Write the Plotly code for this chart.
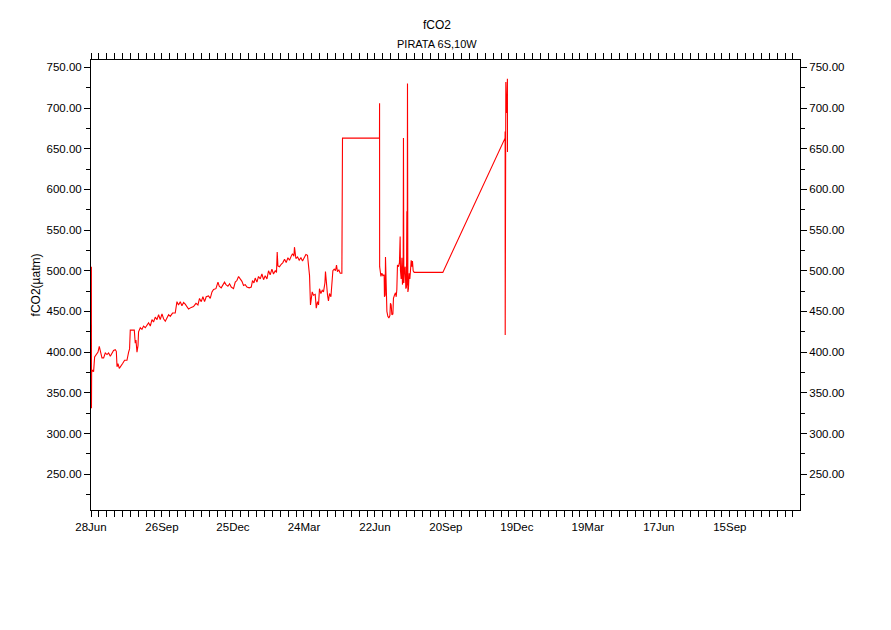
import pandas as pd
import plotly.graph_objects as go

# ---------------- data ----------------
start_date = "2007-06-28"
end_offset_days = 899

day_offsets = [
    0.5, 0.6, 0.7, 0.8, 2.0, 3.3, 4.6, 6.7, 8.9, 10.5, 12.2, 13.9, 16.0, 18.1, 20.3,
    22.3, 24.5, 26.6, 28.6, 30.8, 32.1, 33.0, 34.2, 35.9, 38.4, 40.1, 42.6, 45.6,
    47.7, 48.9, 49.8, 52.0, 54.9, 56.1, 57.0, 58.3, 59.6, 60.3, 62.5, 64.6, 66.7,
    68.8, 71.0, 73.0, 75.2, 77.3, 79.3, 81.5, 83.7, 85.7, 87.8, 90.0, 92.0, 94.2,
    96.3, 98.4, 100.5, 103.4, 106.8, 109.0, 111.0, 113.2, 115.3, 117.4, 119.5,
    121.7, 123.7, 127.1, 130.0, 133.1, 135.6, 137.6, 139.8, 141.9, 144.0, 146.1,
    149.0, 151.2, 153.4, 155.4, 158.4, 161.0, 162.6, 165.1, 166.8, 169.3, 171.1,
    173.6, 175.7, 177.8, 180.7, 182.9, 185.0, 187.1, 189.2, 191.4, 193.4, 195.6,
    197.7, 200.6, 203.2, 204.8, 206.6, 208.2, 210.4, 212.4, 214.6, 216.7, 218.8,
    220.9, 223.1, 225.1, 227.2, 229.4, 231.4, 233.6, 235.2, 236.1, 237.0, 239.0,
    241.2, 243.3, 245.4, 247.5, 249.7, 251.7, 253.9, 255.5, 257.3, 258.0, 259.8,
    261.9, 264.0, 266.2, 268.2, 270.3, 272.5, 274.5, 275.8, 277.1, 278.3, 279.2,
    280.5, 282.1, 284.3, 285.6, 287.2, 288.5, 289.7, 291.5, 293.2, 294.8, 296.6,
    297.3, 298.6, 299.9, 301.1, 302.4, 304.2, 305.4, 306.7, 308.4, 310.0, 311.3,
    312.5, 314.3, 316.0, 318.1, 318.9, 365.8, 365.9, 366.0, 366.7, 367.6, 368.8,
    370.1, 371.7, 372.1, 373.0, 373.4, 374.3, 375.2, 376.4, 377.7, 379.0, 379.7,
    380.6, 381.5, 382.8, 383.5, 384.8, 386.1, 387.0, 387.8, 388.6, 389.9, 391.1,
    392.0, 392.4, 393.3, 394.2, 394.9, 395.8, 396.2, 396.7, 397.4, 398.4, 399.2,
    400.0, 400.5, 400.9, 401.3, 401.8, 402.5, 403.4, 404.3, 405.1, 406.0, 406.8,
    407.6, 408.5, 409.8, 446.1, 525.0, 525.1, 525.2, 525.4, 525.6, 525.8, 526.0,
    526.3, 526.6, 527.0, 528.0, 528.1,
]

fco2_values = [
    505, 331, 378, 375, 378, 376, 394, 397, 400, 407, 398, 393, 393, 399, 397,
    399, 395, 398, 402, 403, 401, 382, 386, 380, 383, 386, 390, 390,
    400, 404, 427, 427, 427, 411, 415, 400, 408, 425, 430, 428, 432,
    430, 433, 436, 432, 440, 437, 443, 440, 446, 440, 447, 441, 438,
    442, 446, 444, 448, 448, 462, 458, 462, 457, 461, 459,
    455, 453, 455, 456, 460, 458, 466, 462, 468, 462, 468,
    469, 466, 474, 477, 478, 486, 481, 479, 482, 486, 483,
    481, 484, 480, 478, 486, 488, 493, 490, 487, 482, 483,
    480, 479, 480, 488, 485, 491, 486, 493, 490, 496, 489,
    494, 490, 500, 495, 502, 496, 500, 498, 523, 506, 505,
    508, 510, 514, 510, 516, 513, 518, 521, 518, 529, 515,
    517, 513, 516, 512, 517, 520, 519, 505, 494, 458, 465,
    474, 470, 471, 454, 462, 458, 478, 472, 476, 474, 485,
    499, 480, 470, 463, 472, 468, 491, 500, 502, 500, 507,
    499, 501, 497, 497, 663, 663, 706, 505, 500, 493, 497,
    494, 495, 468, 470, 517, 456, 450, 444, 442, 445, 460,
    458, 446, 447, 466, 470, 473, 468, 477, 507, 505, 510,
    542, 500, 490, 516, 483, 490, 663, 485, 500, 505, 478,
    480, 573, 482, 730, 474, 478, 497, 490, 500, 513, 505,
    512, 500, 498, 498, 663, 671, 421, 700, 728, 705, 732,
    700, 715, 694, 736, 646,
]

y_range = [206, 759]
y_major_step = 50
y_minor_step = 25
x_major_days = 90
x_minor_days = 10

title_text = "fCO2"
subtitle_text = "PIRATA 6S,10W"
y_title_text = "fCO2(\u00b5atm)"

# ---------------- figure ----------------
start = pd.Timestamp(start_date)
dates = start + pd.to_timedelta(day_offsets, unit="D")
x_end = start + pd.Timedelta(days=end_offset_days)
DAY_MS = 86400000

FONT = "Liberation Sans, Arial, sans-serif"

fig = go.Figure()
fig.add_trace(go.Scatter(
    x=dates, y=fco2_values, mode="lines",
    line=dict(color="#ff0000", width=1.1),
    showlegend=False, hoverinfo="x+y",
))
# dummy trace so the right-hand axis is drawn
fig.add_trace(go.Scatter(
    x=[start], y=[None], yaxis="y2", mode="lines",
    showlegend=False, hoverinfo="skip",
))

fig.update_layout(
    width=891, height=630,
    margin=dict(l=83, r=99, t=52, b=128, autoexpand=False),
    paper_bgcolor="white", plot_bgcolor="white",
    font=dict(family=FONT, size=11.5, color="black"),
    xaxis=dict(
        type="date",
        range=[start, x_end],
        tick0=start_date, dtick=x_major_days * DAY_MS,
        tickformat="%d%b",
        ticks="outside", ticklen=6, tickwidth=1, tickcolor="black",
        showline=True, linecolor="black", linewidth=1,
        mirror="allticks",
        showgrid=False, zeroline=False,
        minor=dict(tick0=start_date, dtick=x_minor_days * DAY_MS,
                   ticks="outside", ticklen=3, tickcolor="black", showgrid=False),
        tickfont=dict(family=FONT, size=11.5),
    ),
    yaxis=dict(
        range=y_range,
        tick0=0, dtick=y_major_step,
        tickformat=".2f",
        ticks="outside", ticklen=6, tickwidth=1, tickcolor="black",
        showline=True, linecolor="black", linewidth=1,
        mirror=True, layer="below traces",
        showgrid=False, zeroline=False,
        minor=dict(tick0=0, dtick=y_minor_step, ticks="outside", ticklen=4,
                   tickcolor="black", showgrid=False),
        tickfont=dict(family=FONT, size=11.5),
    ),
    yaxis2=dict(
        range=y_range, overlaying="y", side="right",
        tick0=0, dtick=y_major_step,
        tickformat=".2f",
        ticks="outside", ticklen=6, tickwidth=1, tickcolor="black",
        showline=True, linecolor="black", linewidth=1,
        layer="below traces",
        showgrid=False, zeroline=False,
        minor=dict(tick0=0, dtick=y_minor_step, ticks="outside", ticklen=4,
                   tickcolor="black", showgrid=False),
        tickfont=dict(family=FONT, size=11.5),
    ),
    annotations=[
        dict(text=title_text, xref="paper", yref="paper", x=0.488, y=1.0,
             yshift=35, showarrow=False, xanchor="center", yanchor="middle",
             font=dict(family=FONT, size=12)),
        dict(text=subtitle_text, xref="paper", yref="paper", x=0.488, y=1.0,
             yshift=16, showarrow=False, xanchor="center", yanchor="middle",
             font=dict(family=FONT, size=11)),
        dict(text=y_title_text, xref="paper", yref="paper", x=-0.077, y=0.5,
             textangle=-90, showarrow=False, xanchor="center", yanchor="middle",
             font=dict(family=FONT, size=12)),
    ],
)

fig.write_html("out.html")
